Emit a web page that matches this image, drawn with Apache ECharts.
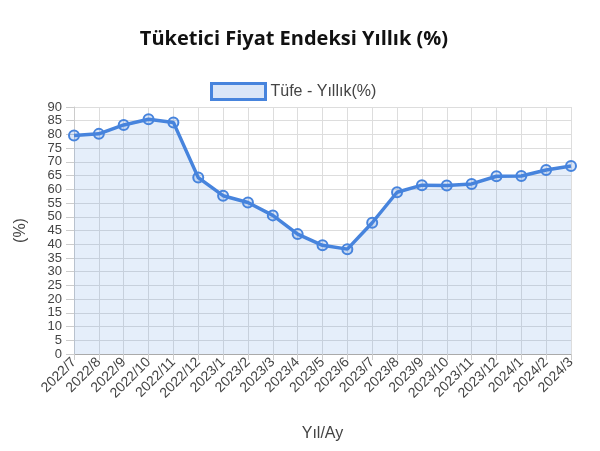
<!DOCTYPE html>
<html><head><meta charset="utf-8">
<script src="https://cdn.jsdelivr.net/npm/echarts@6/dist/echarts.min.js"></script>
<style>html,body{margin:0;padding:0;background:#fff}#c{width:600px;height:451px}</style>
</head><body><div id="c"></div>
<script>
var categories = ['2022/7','2022/8','2022/9','2022/10','2022/11','2022/12','2023/1','2023/2','2023/3','2023/4','2023/5','2023/6','2023/7','2023/8','2023/9','2023/10','2023/11','2023/12','2024/1','2024/2','2024/3'];
var values = [79.6,80.21,83.45,85.51,84.39,64.27,57.68,55.18,50.51,43.68,39.59,38.21,47.83,58.94,61.53,61.36,61.98,64.77,64.86,67.07,68.5];
var seriesName = 'Tüfe - Yıllık(%)';
var blue = '#4784dd';
var fill = 'rgba(71,132,221,0.2)';
var chart = echarts.init(document.getElementById('c'));
chart.setOption({
  animation:false,
  title:{text:'Tüketici Fiyat Endeksi Yıllık (%)',left:289,textAlign:'center',top:24,
    textStyle:{fontFamily:'Open Sans',fontWeight:'bold',fontSize:20,color:'#111'}},
  legend:{top:77,left:205,itemWidth:54,itemHeight:16,itemGap:7,
    textStyle:{fontFamily:'Liberation Sans',fontSize:16,color:'#444'},
    data:[{name:seriesName,icon:'rect',itemStyle:{color:fill,borderColor:blue,borderWidth:3}}]},
  grid:{left:74,right:29,top:107,bottom:97,containLabel:false},
  xAxis:{type:'category',data:categories,boundaryGap:false,
    name:'Yıl/Ay',nameLocation:'middle',nameGap:72,
    nameTextStyle:{fontFamily:'Liberation Sans',fontSize:16,color:'#444'},
    axisLine:{lineStyle:{color:'#aaa'}},
    axisTick:{length:6,lineStyle:{color:'#ccc'}},
    axisLabel:{rotate:45,interval:0,fontFamily:'Liberation Sans',fontSize:14,color:'#444',margin:6},
    splitLine:{show:true,lineStyle:{color:'#ddd'}}},
  yAxis:{type:'value',min:0,max:90,interval:5,
    name:'(%)',nameLocation:'middle',nameGap:45,nameRotate:90,
    nameTextStyle:{fontFamily:'Liberation Sans',fontSize:16,color:'#444'},
    axisLine:{show:true,lineStyle:{color:'#ccc'}},
    axisTick:{show:true,length:8,lineStyle:{color:'#ccc'}},
    axisLabel:{fontFamily:'Liberation Sans',fontSize:13,color:'#444',margin:12,lineHeight:12,
      showMinLabel:true,showMaxLabel:true,hideOverlap:false},
    splitLine:{show:true,lineStyle:{color:'#ddd'}}},
  series:[{name:seriesName,type:'line',data:values,
    lineStyle:{color:blue,width:3.5},
    itemStyle:{color:fill,borderColor:blue,borderWidth:2},
    symbol:'circle',symbolSize:10,showAllSymbol:true,
    areaStyle:{color:fill},z:3}]
});
</script></body></html>
